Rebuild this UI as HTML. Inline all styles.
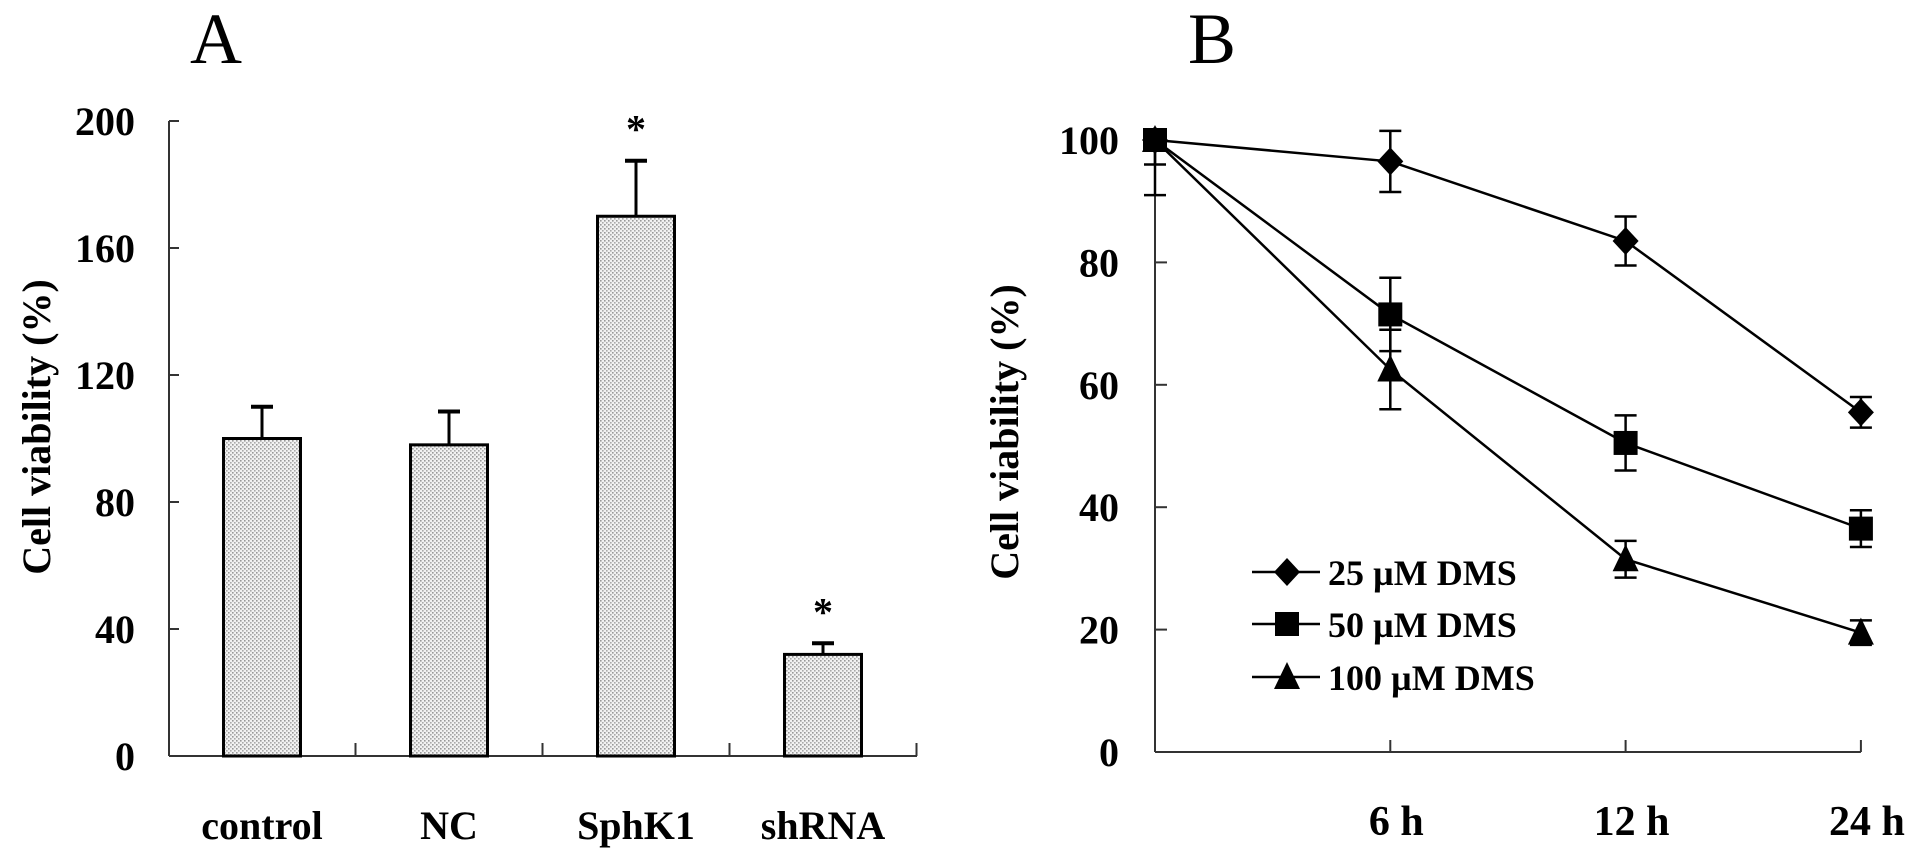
<!DOCTYPE html>
<html><head><meta charset="utf-8"><style>
html,body{margin:0;padding:0;background:#fff;}
svg{display:block;font-family:"Liberation Serif",serif;font-weight:bold;}
</style></head><body>
<svg id="fig" width="1913" height="855" viewBox="0 0 1913 855">
<defs>
<pattern id="dots" width="4" height="4" patternUnits="userSpaceOnUse">
<rect width="4" height="4" fill="#f2f2f2"/>
<rect x="0" y="0" width="1.6" height="1.6" fill="#999"/>
<rect x="2" y="2" width="1.6" height="1.6" fill="#aaa"/>
</pattern>
</defs>
<text x="216" y="63" font-size="72" font-weight="normal" text-anchor="middle">A</text>
<text x="1212" y="63" font-size="72" font-weight="normal" text-anchor="middle">B</text>
<g id="pa"></g>
<g id="pb"></g>
</svg>
<script>
// Panel A data
const aCategories = ["control","NC","SphK1","shRNA"];
const aValues = [100, 98, 170, 32];
const aErrors = [10, 10.5, 17.5, 3.5];
const aSig = [false, false, true, true];
const aTicks = [0,40,80,120,160,200];
// Panel B data
const bTimes = ["", "6 h", "12 h", "24 h"];
const bSeriesNames = ["25 \u00b5M  DMS","50 \u00b5M DMS","100 \u00b5M DMS"];
const b25 = [100, 96.5, 83.5, 55.5];
const b50 = [100, 71.5, 50.5, 36.5];
const b100 = [100, 62.5, 31.5, 19.5];
const b25err = [0, 5, 4, 2.5];
const b50err = [4, 6, 4.5, 3];
const b100err = [9, 6.5, 3, 2];
const bTicks = [0,20,40,60,80,100];

const NS="http://www.w3.org/2000/svg";
function mk(parent,tag,attrs){const e=document.createElementNS(NS,tag);for(const k in attrs)e.setAttribute(k,attrs[k]);parent.appendChild(e);return e;}

// ---- Panel A
const pa=document.getElementById('pa');
const aX0=169, aX1=917, aY0=756, aY1=121;
const ay=v=>aY0-(v/200)*(aY0-aY1);
const aStep=187, aFirst=262, aW=77;
const ax=i=>aFirst+i*aStep;
let e;
e=mk(pa,'line',{x1:aX0,y1:aY1,x2:aX0,y2:aY0,stroke:'#333','stroke-width':2});

e=mk(pa,'line',{x1:aX0,y1:aY0,x2:aX1,y2:aY0,stroke:'#333','stroke-width':2});

aTicks.forEach(t=>{
  e=mk(pa,'line',{x1:aX0,y1:ay(t),x2:aX0+10,y2:ay(t),stroke:'#333','stroke-width':2});
  
  e=mk(pa,'text',{x:135,y:ay(t)+14,'font-size':40,'text-anchor':'end'});e.textContent=t;
  
});
for(let i=0;i<aCategories.length;i++){
  const xm=(ax(i)+ax(i+1))/2;
  e=mk(pa,'line',{x1:xm,y1:aY0,x2:xm,y2:aY0-13,stroke:'#333','stroke-width':2});
  
}
aCategories.forEach((c,i)=>{
  const cx=ax(i),top=ay(aValues[i]),et=ay(aValues[i]+aErrors[i]);
  e=mk(pa,'line',{x1:cx,y1:top,x2:cx,y2:et,stroke:'#000','stroke-width':3});
  
  e=mk(pa,'line',{x1:cx-11,y1:et,x2:cx+11,y2:et,stroke:'#000','stroke-width':4});
  
  e=mk(pa,'rect',{x:cx-aW/2,y:top,width:aW,height:aY0-top,fill:'url(#dots)',stroke:'#000','stroke-width':3});
  
  e=mk(pa,'text',{x:cx,y:839,'font-size':40,'text-anchor':'middle'});e.textContent=c;
  
  if(aSig[i]){
    e=mk(pa,'text',{x:cx,y:et-18,'font-size':40,'text-anchor':'middle'});e.textContent='*';
    
  }
});
e=mk(pa,'text',{x:0,y:0,'font-size':40,'text-anchor':'middle',transform:'translate(50,427) rotate(-90)'});
e.textContent='Cell viability (%)';


// ---- Panel B
const pb=document.getElementById('pb');
const bX0=1155, bY0=752, bY1=140;
const by=v=>bY0-(v/100)*(bY0-bY1);
const bx=i=>bX0+i*235.3;
e=mk(pb,'line',{x1:bX0,y1:bY1-5,x2:bX0,y2:bY0,stroke:'#333','stroke-width':2});

e=mk(pb,'line',{x1:bX0,y1:bY0,x2:bx(3),y2:bY0,stroke:'#333','stroke-width':2});

bTicks.forEach(t=>{
  e=mk(pb,'line',{x1:bX0,y1:by(t),x2:bX0+12,y2:by(t),stroke:'#333','stroke-width':2});
  
  e=mk(pb,'text',{x:1119,y:by(t)+14,'font-size':40,'text-anchor':'end'});e.textContent=t;
  
});
bTimes.forEach((t,i)=>{
  if(i===0)return;
  e=mk(pb,'line',{x1:bx(i),y1:bY0,x2:bx(i),y2:bY0-12,stroke:'#333','stroke-width':2});
  
  e=mk(pb,'text',{x:bx(i)+6,y:835,'font-size':42,'text-anchor':'middle'});e.textContent=t;
  
});
e=mk(pb,'text',{x:0,y:0,'font-size':40,'text-anchor':'middle',transform:'translate(1018,432) rotate(-90)'});
e.textContent='Cell viability (%)';


function marker(g,shape,x,y){
  if(shape==='d') return mk(g,'polygon',{points:`${x},${y-14} ${x+13},${y} ${x},${y+14} ${x-13},${y}`,fill:'#000'});
  if(shape==='s') return mk(g,'rect',{x:x-12,y:y-12,width:24,height:24,fill:'#000'});
  return mk(g,'polygon',{points:`${x},${y-15} ${x+13},${y+12} ${x-13},${y+12}`,fill:'#000'});
}
const series=[[b25,b25err,'d'],[b50,b50err,'s'],[b100,b100err,'t']];
series.forEach(([vals,errs,sh],si)=>{
  const g=mk(pb,'g',{});
  
  
  const pts=vals.map((v,i)=>bx(i)+','+by(v)).join(' ');
  e=mk(g,'polyline',{points:pts,fill:'none',stroke:'#000','stroke-width':2.5});
  
  vals.forEach((v,i)=>{
    const x=bx(i);
    if(errs[i]>0){
      const lo=by(v-errs[i]),hi=i===0?by(v):by(v+errs[i]);
      e=mk(g,'line',{x1:x,y1:hi,x2:x,y2:lo,stroke:'#000','stroke-width':2.5});
      
      e=mk(g,'line',{x1:x-11,y1:lo,x2:x+11,y2:lo,stroke:'#000','stroke-width':2.5});
      
      if(i>0){
        e=mk(g,'line',{x1:x-11,y1:hi,x2:x+11,y2:hi,stroke:'#000','stroke-width':2.5});
        
      }
    }
    e=marker(g,sh,x,by(v));
    
  });
});
// legend
const legY=[572,624,677];
bSeriesNames.forEach((n,i)=>{
  const g=mk(pb,'g',{});
  
  
  mk(g,'line',{x1:1252,y1:legY[i],x2:1320,y2:legY[i],stroke:'#000','stroke-width':2.5});
  marker(g,series[i][2],1287,legY[i]);
  e=mk(g,'text',{x:1328,y:legY[i]+13,'font-size':36});e.textContent=n;
  
});
</script>
</body></html>
